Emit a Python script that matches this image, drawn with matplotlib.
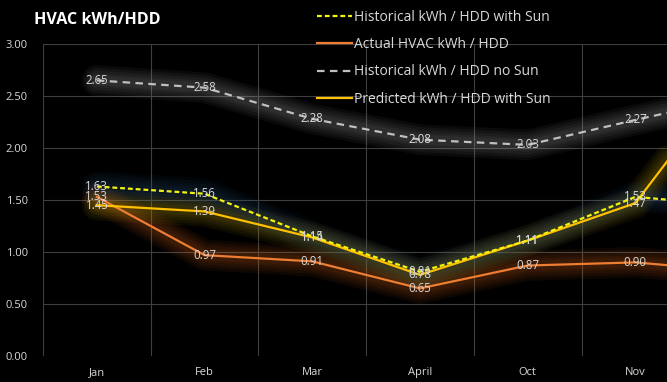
import numpy as np
import matplotlib
matplotlib.use("Agg")
import matplotlib.pyplot as plt

plt.rcParams['font.family'] = ['Open Sans', 'DejaVu Sans']

# dados (Dec cortado na borda direita)
meses = ['Jan', 'Feb', 'Mar', 'April', 'Oct', 'Nov', 'Dec']
hist_sun  = [1.63, 1.56, 1.15, 0.81, 1.11, 1.53, 1.44]
actual    = [1.53, 0.97, 0.91, 0.65, 0.87, 0.90, 0.81]
hist_nosun = [2.65, 2.58, 2.28, 2.08, 2.03, 2.27, 2.50]
predicted = [1.45, 1.39, 1.14, 0.78, 1.11, 1.47, 2.83]
yticks = [0.0, 0.5, 1.0, 1.5, 2.0, 2.5, 3.0]

bg = '#000000'
txt = '#D9D9D9'
grid = '#3F3F3F'

fig = plt.figure(figsize=(6.67, 3.82), dpi=100, facecolor=bg)
# eixo mais largo que a figura: ultimo mes fica cortado
ax = fig.add_axes([43/667, 1-356/382, 7*107.7/667, (356-44)/382])
ax.set_facecolor(bg)
x = np.arange(len(meses))

def glow(y, cor, z):
    for w in [22, 18, 14, 10, 7]:
        ax.plot(x, y, color=cor, lw=w, alpha=0.07, solid_joinstyle='round',
                solid_capstyle='round', zorder=z)

glow(hist_nosun, '#9A9A9A', 1)
glow(actual, '#C8601E', 1)
glow(predicted, '#B89A10', 1)
glow(hist_sun, '#2A5078', 1)

l1, = ax.plot(x, hist_sun, color='#F2F20F', lw=1.6, dashes=(2.2, 1.3), zorder=5)
l2, = ax.plot(x, actual, color='#ED7D31', lw=1.6, zorder=3)
l3, = ax.plot(x, hist_nosun, color='#BFBFBF', lw=1.6, dashes=(3.4, 2.4), zorder=3)
l4, = ax.plot(x, predicted, color='#FFC000', lw=1.6, zorder=4)

for serie in [hist_nosun, actual, predicted, hist_sun]:
    for i, v in enumerate(serie[:-1]):
        ax.text(i, v, '%.2f' % v, color=txt, fontsize=8.3, ha='center',
                va='center', zorder=10)

ax.set_xlim(-0.5, 6.5)
ax.set_ylim(0, 3)
ax.set_yticks(yticks)
ax.set_yticklabels(['%.2f' % t for t in yticks])
ax.set_xticks(x)
ax.set_xticklabels(meses)
ax.get_xticklabels()[-1].set_visible(False)
ax.tick_params(axis='both', which='both', length=0, colors=txt, labelsize=8)
ax.tick_params(axis='y', pad=11)
ax.tick_params(axis='x', pad=8)
ax.grid(False)
for t in yticks[1:]:
    ax.axhline(t, color=grid, lw=0.8, zorder=0)
for m in np.arange(-0.5, 7, 1):
    ax.axvline(m, color=grid, lw=0.8, zorder=0)
for s in ax.spines.values():
    s.set_visible(False)

fig.text(34/667, 1-20/382, 'HVAC kWh/HDD', color='white', fontsize=11.6,
         fontweight='bold', va='center', ha='left')

fig.legend([l1, l2, l3, l4],
           ['Historical kWh / HDD with Sun', 'Actual HVAC kWh / HDD',
            'Historical kWh / HDD no Sun', 'Predicted kWh / HDD with Sun'],
           loc='upper left', bbox_to_anchor=(317/667, 1-10/382), frameon=False,
           fontsize=10, labelcolor=txt, handlelength=2.5, handletextpad=0.15,
           labelspacing=0.88, borderpad=0, borderaxespad=0)

fig.savefig('out.png', dpi=100, facecolor=bg)
